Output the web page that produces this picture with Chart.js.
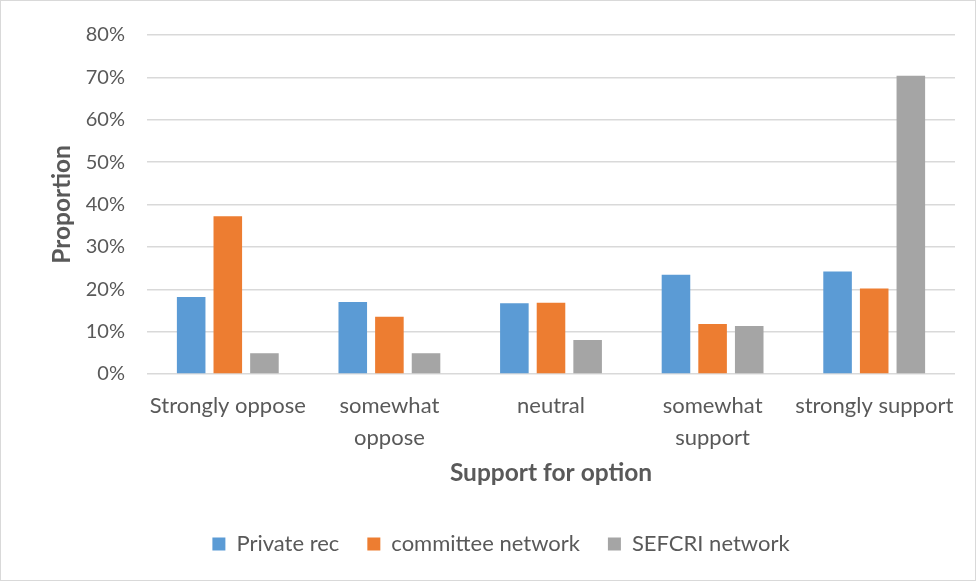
<!DOCTYPE html>
<html>
<head>
<meta charset="utf-8">
<script src="https://cdn.jsdelivr.net/npm/chart.js@4"></script>
<style>
  html, body { margin: 0; padding: 0; background: #fff; }
  #wrap { position: relative; width: 974px; height: 579px; border: 1px solid #d9d9d9; }
</style>
</head>
<body>
<div id="wrap"><canvas id="c" width="974" height="579"></canvas></div>
<script>
// categories (multi-line labels as shown in the picture)
var categories = [
  'Strongly oppose',
  ['somewhat', 'oppose'],
  'neutral',
  ['somewhat', 'support'],
  'strongly support'
];

// proportions in percent
var privateRec = [18.2, 17.0, 16.7, 23.4, 24.2];
var committeeNetwork = [37.2, 13.5, 16.8, 11.8, 20.2];
var sefcriNetwork = [4.9, 4.9, 8.0, 11.3, 70.4];

var seriesNames = ['Private rec', 'committee network', 'SEFCRI network'];
var seriesColors = ['#5b9bd5', '#ed7d31', '#a5a5a5'];

var FONT = 'Lato, "Open Sans", sans-serif';
var TEXT = '#595959';

function dataset(i, values) {
  return {
    label: seriesNames[i],
    data: values,
    backgroundColor: seriesColors[i],
    borderWidth: 0,
    categoryPercentage: 0.68,
    barPercentage: 0.78
  };
}

new Chart(document.getElementById('c'), {
  type: 'bar',
  data: {
    labels: categories,
    datasets: [
      dataset(0, privateRec),
      dataset(1, committeeNetwork),
      dataset(2, sefcriNetwork)
    ]
  },
  options: {
    responsive: false,
    animation: false,
    layout: { padding: { top: 24, right: 20, left: 46, bottom: 15 } },
    plugins: {
      tooltip: { enabled: false },
      legend: {
        position: 'bottom',
        labels: {
          font: { family: FONT, size: 22 },
          color: TEXT,
          boxWidth: 13,
          boxHeight: 13,
          padding: 28
        }
      }
    },
    scales: {
      x: {
        grid: { display: false, drawTicks: false },
        border: { display: false },
        afterFit: function(s) { s.height = 131; },
        ticks: {
          font: { family: FONT, size: 22, lineHeight: 1.45 },
          color: TEXT,
          padding: 16,
          maxRotation: 0,
          autoSkip: false
        },
        title: {
          display: true,
          text: 'Support for option',
          font: { family: FONT, size: 24.5, weight: 'bold' },
          color: TEXT,
          padding: { top: 0, bottom: 17 }
        }
      },
      y: {
        min: 0,
        max: 80,
        grid: { color: '#d9d9d9', lineWidth: 1.5, drawTicks: false },
        border: { display: false },
        afterFit: function(s) { s.width = 100; },
        ticks: {
          stepSize: 10,
          font: { family: FONT, size: 20 },
          color: TEXT,
          padding: 22,
          callback: function(v) { return v + '%'; }
        },
        title: {
          display: true,
          text: 'Proportion',
          font: { family: FONT, size: 24.5, weight: 'bold' },
          color: TEXT,
          padding: { top: 0, bottom: 4 }
        }
      }
    }
  }
});
</script>
</body>
</html>
